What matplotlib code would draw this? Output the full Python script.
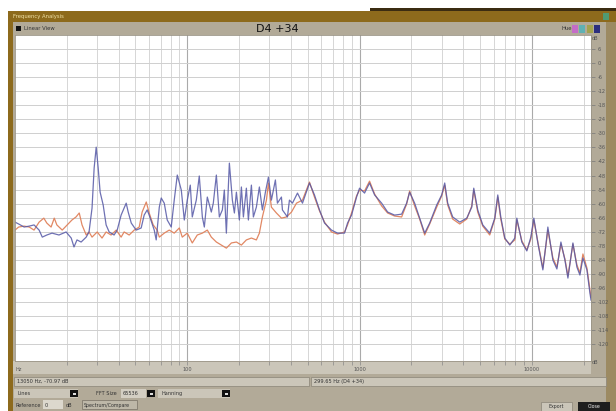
import matplotlib
matplotlib.use("Agg")
import matplotlib.pyplot as plt
from matplotlib.patches import Rectangle

W, H = 616, 411

# spectrum of the first take (blue trace), Hz / dB
blue_hz = [10, 10.5, 11.3, 12.1, 12.9, 13.8, 14.4, 15.3, 16.4, 18.0, 19.8, 21.2, 22.0, 22.9,
           24.2, 25.9, 26.9, 28.0, 28.8, 29.6, 30.4, 31.2, 32.5, 33.8, 35.2, 37.6, 39.2, 41.3,
           44.2, 45.4, 47.3, 50.5, 54.0, 56.2, 58.5, 60.1, 64.3, 66.0, 68.8, 70.6, 73.5, 76.5,
           80.7, 84.0, 87.5, 92.3, 96.1, 100, 104.1, 106.9, 112.8, 117.4, 122.3, 125.6, 130.7,
           137.9, 141.6, 147.5, 153.5, 159.8, 164.1, 168.6, 175.5, 182.7, 187.7, 192.8, 200.6,
           206.1, 211.7, 220.3, 226.3, 235.6, 241.9, 251.8, 262.1, 272.9, 284.1, 295.8, 307.8,
           324.7, 333.6, 352.0, 356.7, 381.4, 391.7, 407.9, 436.2, 466.3, 512.0, 547.4, 585.5,
           626.0, 687.4, 744.9, 818.1, 851.6, 898.5, 960.7, 1000, 1069, 1143, 1223, 1343, 1455,
           1597, 1755, 1876, 1953, 2088, 2233, 2388, 2553, 2804, 2997, 3121, 3248, 3473, 3815,
           4190, 4480, 4601, 4853, 5190, 5698, 6094, 6343, 6603, 6966, 7450, 7965, 8181, 8748,
           9353, 9867, 10270, 10837, 11587, 12061, 12388, 13248, 13978, 14749, 15558, 16197,
           17316, 18270, 19013, 19794, 20884, 21738, 22050]
blue_db = [-67.9, -68.7, -70.0, -69.6, -69.1, -71.3, -74.3, -73.4, -72.6, -73.4, -72.1, -74.7,
           -78.5, -75.5, -76.4, -74.3, -72.1, -61.9, -44.8, -35.9, -44.8, -55.1, -60.6, -69.1,
           -72.1, -73.4, -71.3, -64.9, -59.8, -63.6, -68.3, -71.3, -70.4, -64.9, -62.7, -64.9,
           -71.3, -75.5, -61.5, -57.6, -59.8, -67.0, -70.0, -58.5, -47.8, -54.2, -67.0, -58.5,
           -52.1, -65.7, -58.5, -48.2, -65.7, -70.0, -57.2, -63.6, -59.8, -47.8, -65.7, -62.7,
           -54.2, -72.6, -42.7, -58.5, -64.0, -55.1, -67.0, -52.9, -65.7, -53.4, -67.0, -52.1,
           -65.7, -61.5, -52.9, -62.7, -55.1, -48.7, -58.5, -49.9, -59.8, -57.2, -62.7, -65.7,
           -58.5, -59.8, -55.5, -59.8, -51.2, -56.3, -62.7, -68.3, -71.3, -72.6, -72.6, -68.3,
           -64.9, -57.2, -53.4, -55.5, -51.2, -56.3, -59.8, -63.6, -64.9, -64.5, -59.8, -55.1,
           -59.8, -66.2, -72.6, -68.3, -60.6, -56.3, -51.2, -59.8, -65.7, -67.9, -66.2, -61.5,
           -53.4, -62.7, -69.1, -72.6, -66.2, -56.3, -65.7, -74.7, -77.7, -74.7, -66.2, -76.4,
           -80.2, -74.3, -66.2, -76.8, -88.3, -77.7, -70.0, -84.1, -87.9, -76.4, -84.1, -91.8,
           -76.8, -87.1, -90.5, -83.2, -88.3, -98.2, -101.2]

# spectrum of the second take (orange trace), Hz / dB
orange_hz = [10, 10.5, 11.3, 12.1, 12.9, 13.8, 14.7, 15.3, 16.2, 16.9, 17.5, 18.8, 20.1, 21.4,
             22.6, 23.6, 24.5, 25.9, 26.9, 28.0, 30.0, 32.0, 33.8, 36.1, 38.7, 41.3, 43.0, 46.0,
             49.2, 52.6, 54.7, 57.8, 60.1, 63.4, 66.9, 68.8, 73.5, 78.6, 84.0, 89.9, 93.5, 100,
             106.9, 114.3, 122.3, 130.7, 137.9, 147.5, 157.7, 168.6, 180.3, 192.8, 206.1, 220.3,
             235.6, 251.8, 262.1, 272.9, 288.0, 295.8, 307.8, 329.1, 352.0, 376.3, 402.5, 430.4,
             466.3, 512.0, 547.4, 585.5, 626.0, 687.4, 744.9, 818.1, 851.6, 898.5, 960.7, 1000,
             1069, 1143, 1223, 1343, 1455, 1597, 1755, 1876, 1953, 2088, 2233, 2388, 2553, 2804,
             2997, 3121, 3248, 3473, 3815, 4190, 4480, 4601, 4853, 5190, 5698, 6094, 6343, 6603,
             6966, 7450, 7965, 8181, 8748, 9353, 9867, 10270, 10837, 11587, 12061, 12388, 13248,
             13978, 14749, 15558, 16197, 17316, 18270, 19013, 19794, 20884, 21738, 22050]
orange_db = [-71.3, -70.0, -69.6, -70.0, -71.3, -67.9, -66.2, -68.3, -70.0, -66.2, -69.1, -71.3,
             -69.1, -67.0, -65.7, -64.0, -69.1, -73.4, -72.1, -74.3, -72.1, -74.7, -72.1, -73.4,
             -71.3, -74.3, -72.1, -73.4, -71.3, -70.0, -63.6, -59.3, -64.0, -69.1, -71.3, -74.3,
             -72.6, -71.3, -72.6, -70.4, -74.3, -72.6, -76.8, -73.4, -72.6, -71.3, -74.3, -76.4,
             -77.7, -79.0, -76.8, -76.4, -77.7, -75.5, -74.7, -75.5, -72.6, -65.7, -58.5, -51.2,
             -61.5, -64.0, -66.2, -65.7, -63.6, -59.8, -58.5, -50.8, -57.2, -63.1, -67.9, -72.1,
             -73.0, -72.1, -69.1, -64.0, -56.7, -54.2, -54.6, -50.4, -55.9, -61.0, -64.0, -65.3,
             -65.7, -60.2, -54.6, -61.0, -66.6, -73.4, -68.7, -61.5, -56.7, -52.1, -60.6, -66.6,
             -68.7, -66.6, -61.0, -54.2, -63.6, -69.6, -73.4, -66.6, -57.2, -66.6, -75.1, -77.3,
             -75.5, -67.0, -75.9, -79.8, -75.1, -67.0, -76.4, -87.5, -78.1, -71.3, -83.2, -87.1,
             -77.3, -83.6, -90.9, -77.3, -86.2, -89.6, -81.5, -87.5, -96.8, -100.0]

db_ticks = list(range(-120, 7, 6))
hz_ticks = [100, 1000, 10000]
note_label = "D4 +34"
cursor_text = "13050 Hz, -70.97 dB"
peak_text = "299.65 Hz (D4 +34)"

panel = "#b2aa98"
light = "#cbc6b9"
gold = "#8d6a1c"

fig = plt.figure(figsize=(W / 100, H / 100), dpi=100)
ui = fig.add_axes([0, 0, 1, 1])
ui.set_xlim(0, W)
ui.set_ylim(H, 0)
ui.axis("off")


def box(x, y, w, h, color, ec="none", lw=0.0, z=1):
    ui.add_patch(Rectangle((x, y), w, h, facecolor=color, edgecolor=ec, linewidth=lw, zorder=z))


def label(x, y, s, size=4, color="#333333", **kw):
    ui.text(x, y, s, fontsize=size, color=color, va="center", zorder=5, **kw)


# window frame, title bar and toolbar
box(370, 8.5, 246, 2.5, "#3b2c12")
box(8, 11, 608, 400, panel)
box(8, 11, 608, 11, gold, z=2)
box(8, 11, 5, 400, gold, z=2)
box(606, 22, 10, 389, "#9c8a62", z=2)
box(603, 13, 6, 7, "#4f9a72", z=3)
label(13, 16.5, "Frequency Analysis", size=3.8, color="#f3e4a8")

box(16, 26, 5, 5, "#111111", z=3)
label(24, 28.5, "Linear View", size=3.8)
label(277, 29, note_label, size=8, color="#111111", ha="center")
label(561, 29, "Hue", size=3.8)
for i, c in enumerate(["#c46cc8", "#5fb1b4", "#a3a24e", "#2c2f7e"]):
    box(572 + i * 7.3, 25, 6, 8, c, z=3)

# strip under the plot and the status fields
box(13, 361, 578, 13, light, z=2)
box(14, 377, 295, 9, light, ec="#8a8477", lw=0.5, z=2)
label(17, 381.5, cursor_text, size=3.6)
box(311, 377, 295, 9, light, ec="#8a8477", lw=0.5, z=2)
label(314, 381.5, peak_text, size=3.6)

# combo boxes and buttons
box(14, 389, 64, 9, light, z=2)
label(17, 393.5, "Lines", size=3.6)
box(70, 390, 8, 7, "#111111", z=3)
label(96, 393.5, "FFT Size", size=3.6)
box(121, 389, 25, 9, "#d4cfc3", z=2)
label(123, 393.5, "65536", size=3.6)
box(147, 390, 8, 7, "#111111", z=3)
box(158, 389, 72, 9, light, z=2)
label(161, 393.5, "Hanning", size=3.6)
box(222, 390, 8, 7, "#111111", z=3)
for bx in (70, 147, 222):
    box(bx + 2.5, 392.5, 3, 2, "#dddddd", z=4)

label(15, 405, "Reference", size=3.6)
box(43, 400, 20, 9, "#dcd8cd", z=2)
label(45, 405, "0", size=3.6)
label(66, 405, "dB", size=3.6)
box(82, 400, 55, 9, "#bdb7a8", ec="#777064", lw=0.5, z=2)
label(84, 405, "Spectrum/Compare", size=3.4)
box(541, 402, 31, 9, "#cbc6b9", ec="#8a8477", lw=0.5, z=2)
label(556, 406.5, "Export", size=3.4, ha="center")
box(578, 402, 32, 9, "#1e1e1e", z=2)
label(594, 406.5, "Close", size=3.4, color="#eeeeee", ha="center")

label(592, 38, "dB", size=3.6, color="#555555")
label(592, 362, "dB", size=3.6, color="#555555")
label(16, 369, "Hz", size=3.6, color="#555555")

# spectrum plot
ax = fig.add_axes([15 / W, 1 - 361 / H, 576 / W, 326 / H])
ax.set_xscale("log")
ax.set_xlim(10, 22050)
ax.set_ylim(-127.2, 12)
ax.set_facecolor("white")
ax.grid(which="major", axis="x", color="#aaaaaa", lw=0.8)
ax.grid(which="minor", axis="x", color="#d6d6d6", lw=0.7)
ax.grid(which="major", axis="y", color="#cfcfcf", lw=0.7)
ax.set_axisbelow(True)

ax.plot(orange_hz, orange_db, color="#e0825c", lw=0.9, alpha=0.95)
ax.plot(blue_hz, blue_db, color="#5558a6", lw=0.9, alpha=0.85)

ax.yaxis.tick_right()
ax.set_yticks(db_ticks)
ax.set_yticklabels([str(v) for v in db_ticks])
ax.tick_params(axis="y", labelsize=3.6, labelcolor="#555555", length=3, width=0.5,
               color="#777777", pad=1.5)
ax.set_xticks(hz_ticks)
ax.set_xticklabels([str(v) for v in hz_ticks])
ax.tick_params(axis="x", which="both", labelsize=3.6, labelcolor="#555555", length=3,
               width=0.5, color="#888888", pad=1.5)
for s in ax.spines.values():
    s.set_color("#9a9486")
    s.set_linewidth(0.6)

fig.savefig("out.png", dpi=100)
